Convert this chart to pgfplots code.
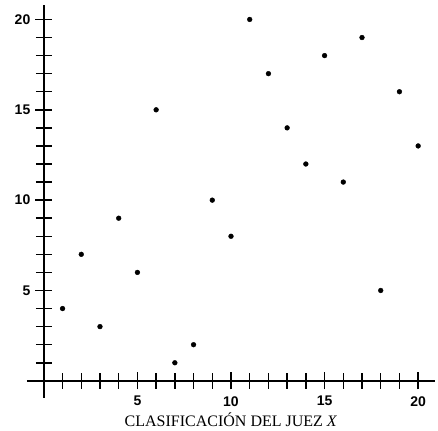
\documentclass[border=0pt]{standalone}
\usepackage{pgfplots}
\pgfplotsset{compat=1.18}
\usepackage{fontspec}
\setmainfont{Liberation Serif}
\newfontfamily\tickfont{Liberation Sans}
\begin{document}
\begin{tikzpicture}
\begin{axis}[
  scale only axis, width=408pt, height=393pt,
  axis lines=middle, axis line style={line width=1.8pt,-},
  xmin=-0.9, xmax=20.9, ymin=-0.95, ymax=20.8,
  xtick={5,10,15,20}, ytick={5,10,15,20},
  minor xtick={1,...,20}, minor ytick={1,...,20},
  tick align=center, major tick length=17pt, minor tick length=16pt,
  every tick/.style={line width=1.5pt, black},
  every minor tick/.style={line width=1.5pt, black},
  /pgf/number format/assume math mode=true,
  ticklabel style={font=\tickfont\bfseries\fontsize{14}{15}\selectfont},
  xticklabel style={yshift=-3.5pt},
  yticklabel style={xshift=-1.5pt},
  xlabel={CLASIFICACIÓN DEL JUEZ \textit{X}},
  xlabel style={at={(axis description cs:0.5,0)}, anchor=north, yshift=-11pt,
    font=\fontsize{16}{18}\selectfont},
  clip=false,
]
\addplot[only marks, mark=*, mark size=2.4pt, black] coordinates {
(1,4) (2,7) (3,3) (4,9) (5,6) (6,15) (7,1) (8,2) (9,10) (10,8)
(11,20) (12,17) (13,14) (14,12) (15,18) (16,11) (17,19) (18,5) (19,16) (20,13)
};
\coordinate (ll) at (rel axis cs:0,0);
\coordinate (ur) at (rel axis cs:1,1);
\end{axis}
\pgfresetboundingbox
\path ([shift={(-27pt,-33pt)}]ll) rectangle ([shift={(3pt,5pt)}]ur);
\end{tikzpicture}
\end{document}
